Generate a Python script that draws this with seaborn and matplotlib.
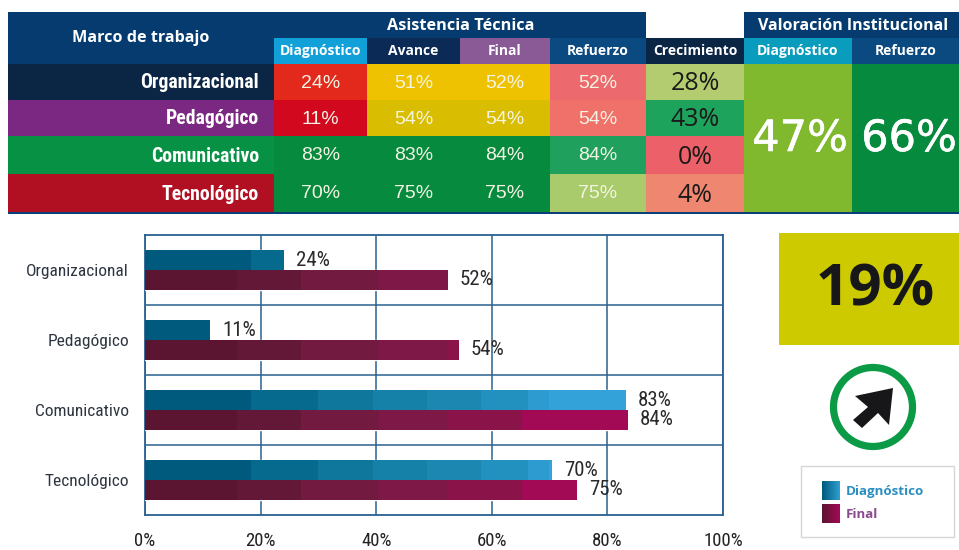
import matplotlib
matplotlib.use('Agg')
import matplotlib.patheffects as pe
import matplotlib.pyplot as plt
from matplotlib.colors import ListedColormap
from matplotlib.patches import Circle, Polygon, Rectangle
import numpy as np
import pandas as pd
import seaborn as sns

marcos = ['Organizacional', 'Pedagógico', 'Comunicativo', 'Tecnológico']
diagnostico = [24, 11, 83, 70]
avance = [51, 54, 83, 75]
final = [52, 54, 84, 75]
refuerzo = [52, 54, 84, 75]
crecimiento = [28, 43, 0, 4]
# largo de las barras tal como se lee en el grafico
barra_diagnostico = [24.1, 11.3, 83.2, 70.4]
barra_final = [52.4, 54.3, 83.5, 74.7]
val_diagnostico = 47
val_refuerzo = 66
mejora = '19%'
ticks = [0, 20, 40, 60, 80, 100]

W, H = 959, 550
NAVY = '#053b6e'
col_x = [8, 274, 367, 460, 550, 646, 744, 852, 959]
row_y = [64, 100, 136, 174, 212]

marco_colors = ['#0b2545', '#7b2882', '#069144', '#b10f22']
tabla_colors = [
    ['#e2291c', '#eec200', '#eec200', '#ec6a6e', '#b4cc70'],
    ['#d2081f', '#d9bd00', '#d9bd00', '#f0706a', '#1ea35c'],
    ['#068a3e', '#068a3e', '#068a3e', '#1fa05c', '#ec6069'],
    ['#068a3e', '#068a3e', '#068a3e', '#a9cb6c', '#ee8670'],
]
header_colors = ['#12a0d8', '#0c2a56', '#8a5a96', '#0a4a80', '#0b2545', '#0a9cbc', '#0a4a80']
header_labels = ['Diagnóstico', 'Avance', 'Final', 'Refuerzo', 'Crecimiento', 'Diagnóstico', 'Refuerzo']

sns.set_theme(style='white')
NARROW = ['Roboto Condensed', 'Liberation Sans', 'DejaVu Sans']
plt.rcParams['font.family'] = NARROW

fig = plt.figure(figsize=(W / 100, H / 100), dpi=100)

# capa de fondo en pixeles para la tabla y los recuadros
bg = fig.add_axes([0, 0, 1, 1])
bg.axis('off')


def box(x0, y0, x1, y1, color, **kw):
    bg.add_patch(Rectangle((x0, y0), x1 - x0, y1 - y0, facecolor=color, edgecolor='none', **kw))


box(8, 12, 959, 64, NAVY)
box(646, 12, 744, 38, 'white')
box(8, 211, 959, 214, '#0a3f78')

head_font = ['Open Sans', 'DejaVu Sans']
plain_font = ['Liberation Sans', 'DejaVu Sans']
bg.text(141, 38, 'Marco de trabajo', color='white', fontsize=11.6, fontweight='bold',
        family=head_font, ha='center', va='center')
bg.text(461, 26, 'Asistencia Técnica', color='white', fontsize=11.7, fontweight='bold',
        family=head_font, ha='center', va='center')
bg.text(853, 26, 'Valoración Institucional', color='white', fontsize=11.5, fontweight='bold',
        family=head_font, ha='center', va='center')

for i, label in enumerate(header_labels):
    box(col_x[i + 1], 38, col_x[i + 2], 64, header_colors[i])
    bg.text((col_x[i + 1] + col_x[i + 2]) / 2, 51, label, color='white', fontsize=10,
            fontweight='bold', family=head_font, ha='center', va='center')

tabla = [diagnostico, avance, final, refuerzo, crecimiento]
for r, marco in enumerate(marcos):
    mid = (row_y[r] + row_y[r + 1]) / 2
    box(8, row_y[r], 274, row_y[r + 1], marco_colors[r])
    bg.text(259, mid + 1, marco, color='white', fontsize=14.2, fontweight='bold',
            family=NARROW, ha='right', va='center')
    for c in range(5):
        box(col_x[c + 1], row_y[r], col_x[c + 2], row_y[r + 1], tabla_colors[r][c])
        dark = c == 4
        bg.text((col_x[c + 1] + col_x[c + 2]) / 2, mid + (2 if dark else 1),
                f'{tabla[c][r]}%', color='#1a1a1a' if dark else '#f4f4e4',
                fontsize=18 if dark else 14, ha='center', va='center',
                family=head_font if dark else plain_font)

box(744, 64, 852, 212, '#80b82e')
box(852, 64, 959, 212, '#068a3e')
grueso = [pe.withStroke(linewidth=0.4, foreground='white')]
bg.text(800, 139, f'{val_diagnostico}%', color='white', fontsize=31, ha='center', va='center',
        family='DejaVu Sans', path_effects=grueso)
bg.text(909, 139, f'{val_refuerzo}%', color='white', fontsize=31, ha='center', va='center',
        family='DejaVu Sans', path_effects=grueso)

# recuadro 19%
box(779, 233, 959, 345, '#cdcb00')
bg.text(875, 291, mejora, color='#17171a', fontsize=42, fontweight='bold', ha='center',
        va='center', family=head_font)

# flecha
bg.add_patch(Circle((873, 407), 39.5, facecolor='white', edgecolor='#0b9a46', linewidth=5.2))
bg.add_patch(Polygon([(893, 388), (855, 396), (868, 407), (853, 420), (862, 428), (878, 413),
                      (889, 425)], closed=True, facecolor='#17171a', edgecolor='none'))

# leyenda
bg.add_patch(Rectangle((801, 466), 153, 71, facecolor='white', edgecolor='#d4d6da', linewidth=1))


def legend_swatch(y0, colors):
    cmap = sns.blend_palette(colors, as_cmap=True)
    bg.imshow(np.linspace(0, 1, 32).reshape(1, -1), extent=(822, 840, y0 + 19, y0), cmap=cmap,
              aspect='auto', zorder=3)


legend_swatch(481, ['#005a7d', '#2f9fd0'])
legend_swatch(504, ['#5b1530', '#a30a55'])
bg.set_xlim(0, W)
bg.set_ylim(H, 0)
bg.text(846, 491, 'Diagnóstico', color='#2a8fc0', fontsize=9.6, fontweight='bold',
        family=head_font, va='center')
bg.text(846, 514, 'Final', color='#8a4a8e', fontsize=9.6, fontweight='bold',
        family=head_font, va='center')

# grafico de barras
x0, x1, y0, y1 = 145, 723, 235, 515
ax = fig.add_axes([x0 / W, 1 - y1 / H, (x1 - x0) / W, (y1 - y0) / H])
ax.patch.set_alpha(0)

df = pd.DataFrame({'marco': marcos * 2,
                   'valor': barra_diagnostico + barra_final,
                   'serie': ['Diagnóstico'] * 4 + ['Final'] * 4})
sns.barplot(df, x='valor', y='marco', hue='serie', order=marcos, orient='h', ax=ax,
            palette=['#005a7d', '#5b1530'], gap=0, width=0.57, legend=False, saturation=1, zorder=3)

# las barras van por tramos de color segun la posicion en x
band_edges = {
    'Diagnóstico': ([0, 18.3, 30, 39.5, 48.8, 58.1, 66.3, 69.9, 100],
                    ['#005a7d', '#06698e', '#10779c', '#1580a8', '#1c88b2', '#2391bf', '#2d9ad0', '#33a2d8']),
    'Final': ([0, 16, 27, 40.5, 52.4, 65.2, 100],
              ['#5b1530', '#631838', '#721a40', '#7e1846', '#8a134a', '#a30a55']),
}

for container, serie in zip(ax.containers, ['Diagnóstico', 'Final']):
    edges, colors = band_edges[serie]
    for bar in container:
        y_top, y_bot = bar.get_y(), bar.get_y() + bar.get_height()
        qm = ax.pcolormesh(edges, [y_top, y_bot], np.arange(len(colors)).reshape(1, -1),
                           cmap=ListedColormap(colors), zorder=3.5)
        qm.set_clip_path(bar)

for r, marco in enumerate(marcos):
    ax.text(barra_diagnostico[r] + 2.1, r - 0.14, f'{diagnostico[r]}%', fontsize=15, color='#2a2a2a',
            family=NARROW, va='center', ha='left', zorder=5)
    ax.text(barra_final[r] + 2.1, r + 0.14, f'{final[r]}%', fontsize=15, color='#2a2a2a',
            family=NARROW, va='center', ha='left', zorder=5)

ax.set_xlim(0, 100)
ax.set_ylim(3.5, -0.5)
ax.set_xticks(ticks)
ax.set_xticklabels([f'{t}%' for t in ticks], fontsize=13.5, color='#222222', family=NARROW)
ax.set_yticks(range(4))
ax.set_yticklabels(marcos, fontsize=12.5, color='#2d3540', family=NARROW)
ax.set_xlabel('')
ax.set_ylabel('')
ax.tick_params(axis='x', length=0, pad=12)
ax.tick_params(axis='y', length=0, pad=11.5)
ax.xaxis.grid(True, color='#2a6090', linewidth=1.1)
for yy in [0.5, 1.5, 2.5]:
    ax.axhline(yy, color='#2a6090', linewidth=1.1, zorder=1)
ax.set_axisbelow(True)
for side in ax.spines.values():
    side.set_color('#2a6090')
    side.set_linewidth(1.3)

fig.savefig('out.png', dpi=100)
